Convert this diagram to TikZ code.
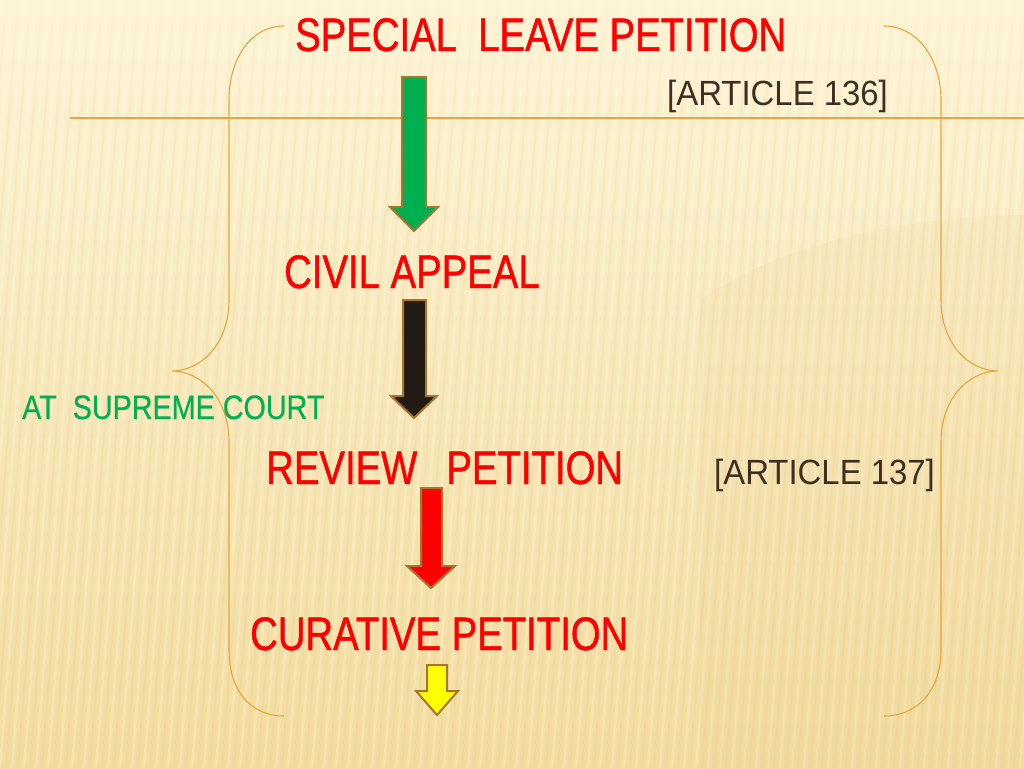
\documentclass[tikz,border=0pt]{standalone}
\usepackage{fontspec}
\newfontfamily\cond[FakeStretch=0.815,FakeBold=1]{Liberation Sans}
\newfontfamily\artfont[FakeStretch=0.94]{Liberation Sans}
\newfontfamily\scfont[FakeStretch=0.845,FakeBold=0.5]{Liberation Sans}
\definecolor{bgtop}{HTML}{FDF4D4}
\definecolor{bgbot}{HTML}{F2DC9E}
\definecolor{braceor}{HTML}{E9A53A}
\definecolor{slred}{HTML}{FF0000}
\definecolor{slgreen}{HTML}{00B050}
\definecolor{artbrown}{HTML}{3F2E22}
\definecolor{arrowedge}{HTML}{A8742E}
\definecolor{arrblack}{HTML}{221A14}
\definecolor{arryellow}{HTML}{FFFF00}
\tikzset{
  redtitle/.style={inner sep=0pt, anchor=base west, text=slred, font=\cond\fontsize{47}{50}\selectfont},
  arttext/.style={inner sep=0pt, anchor=base west, text=artbrown, font=\artfont\fontsize{35}{38}\selectfont},
  greentext/.style={inner sep=0pt, anchor=base west, text=slgreen, font=\scfont\fontsize{34}{38}\selectfont},
  bracestyle/.style={draw=braceor, line width=1.1pt},
  blockarrow/.style={draw=arrowedge, line width=2pt, line join=miter}
}
\begin{document}
\begin{tikzpicture}[x=1pt,y=-1pt]
\useasboundingbox (0,0) rectangle (1024,768);
% background
\shade[top color=bgtop, bottom color=bgbot] (0,0) rectangle (1024,768);
\foreach \i in {0,12,...,1140} {
  \draw[white, opacity=0.22, line width=2.5pt] (\i-120,768) -- (\i-60,0);
  \draw[brown, opacity=0.05, line width=2pt] (\i-114,768) -- (\i-54,0);
}
\foreach \k in {0,...,11} {
  \fill[bgtop, opacity={0.85-0.07*\k}] (0,{\k*12}) rectangle (1024,{\k*12+12});
}
\fill[bgbot!80!brown, opacity=0.12] (700,768) -- (700,300) .. controls (800,230) and (950,215) .. (1024,215) -- (1024,768) -- cycle;
% horizontal rule
\draw[braceor, line width=1.4pt] (70,118) -- (1024,118);
% braces
\draw[bracestyle] (284,26) .. controls (250,26) and (229,60) .. (229,100) -- (229,300)
  .. controls (229,345) and (200,371) .. (172,371)
  .. controls (200,371) and (229,397) .. (229,442) -- (229,650)
  .. controls (229,690) and (250,716) .. (284,716);
\draw[bracestyle] (884,26) .. controls (918,26) and (941,60) .. (941,100) -- (941,300)
  .. controls (941,345) and (970,371) .. (998,371)
  .. controls (970,371) and (941,397) .. (941,442) -- (941,650)
  .. controls (941,690) and (918,716) .. (884,716);
% texts
\node[redtitle] (slp) at (295,51) {SPECIAL\ \ LEAVE PETITION};
\node[arttext] (a136) at (667,105) {[ARTICLE 136]};
\node[redtitle] (civil) at (284,288) {CIVIL APPEAL};
\node[greentext] (sc) at (22,419) {AT\ \ SUPREME COURT};
\node[redtitle] (review) at (266,484) {REVIEW\ \ \,PETITION};
\node[arttext] (a137) at (714,484) {[ARTICLE 137]};
\node[redtitle] (cur) at (250,650) {CURATIVE PETITION};
% block arrows
\filldraw[blockarrow, fill=slgreen] (402,77) -- (426,77) -- (426,207) -- (438,207) -- (414,231) -- (390,207) -- (402,207) -- cycle;
\filldraw[blockarrow, fill=arrblack] (403,300) -- (426,300) -- (426,396) -- (437,396) -- (414,418) -- (391,396) -- (403,396) -- cycle;
\filldraw[blockarrow, fill=slred] (421,488) -- (442,488) -- (442,566) -- (455,566) -- (431,588) -- (407,566) -- (421,566) -- cycle;
\filldraw[blockarrow, fill=arryellow] (427,665) -- (447,665) -- (447,691) -- (458,691) -- (437,715) -- (416,691) -- (427,691) -- cycle;
\end{tikzpicture}
\end{document}
